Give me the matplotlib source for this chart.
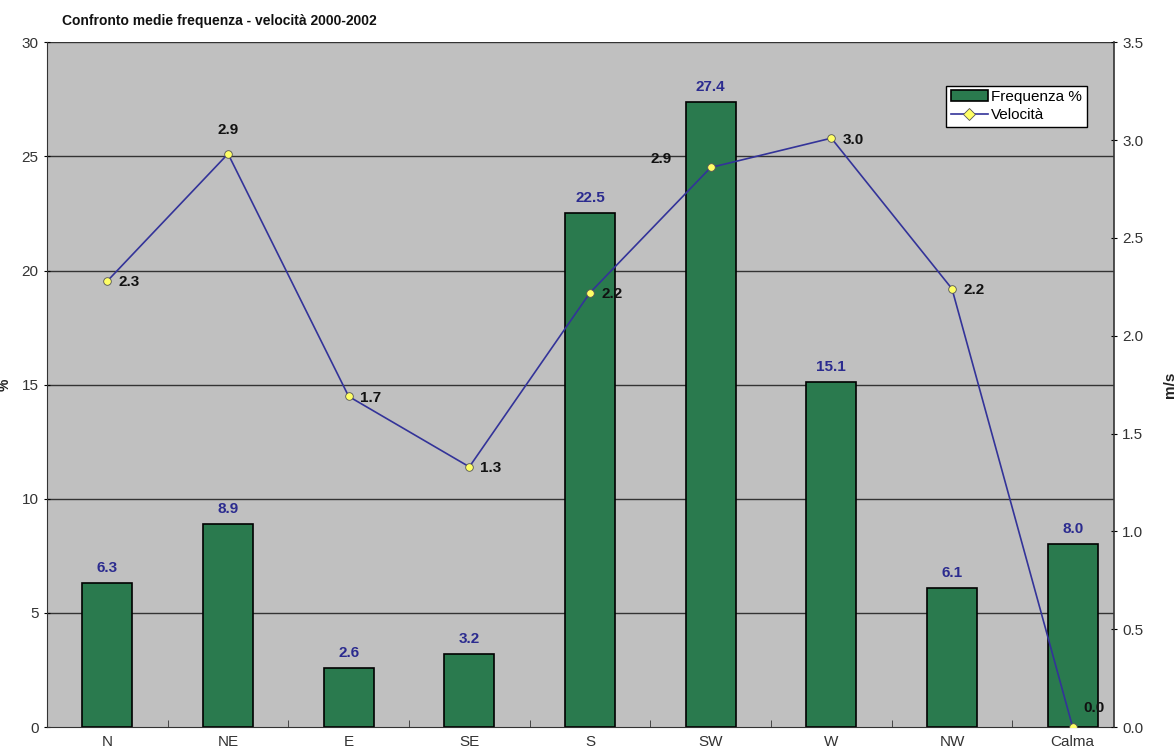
import matplotlib
matplotlib.use("Agg")
import matplotlib.pyplot as plt
from matplotlib.lines import Line2D
from matplotlib.patches import Patch
import numpy as np

plt.rcParams['font.family'] = ['Liberation Sans', 'DejaVu Sans']

categories = ["N", "NE", "E", "SE", "S", "SW", "W", "NW", "Calma"]
frequenza = [6.3, 8.9, 2.6, 3.2, 22.5, 27.4, 15.1, 6.1, 8.0]
velocita = [2.28, 2.93, 1.69, 1.33, 2.22, 2.86, 3.01, 2.24, 0.0]
vel_labels = ["2.3", "2.9", "1.7", "1.3", "2.2", "2.9", "3.0", "2.2", "0.0"]
left_ticks = [0, 5, 10, 15, 20, 25, 30]
right_ticks = [0.0, 0.5, 1.0, 1.5, 2.0, 2.5, 3.0, 3.5]

fig = plt.figure(figsize=(11.76, 7.55), dpi=100)
ax = fig.add_axes([0.040, 0.037, 0.907, 0.907])
ax.set_facecolor('#C0C0C0')
x = np.arange(len(categories))

ax.set_ylim(0, 30)
ax.set_xlim(-0.5, len(categories) - 0.66)
ax.set_yticks(left_ticks)
for t in left_ticks[1:]:
    ax.axhline(t, color='#333333', lw=1.0, zorder=1)

ax.bar(x, frequenza, width=0.415, color='#2A7A4E', edgecolor='black', lw=1.2, zorder=2)
for xi, v in zip(x, frequenza):
    ax.text(xi, v + 0.35, f"{v:.1f}", ha='center', va='bottom', color='#2B2B8F',
            fontsize=11, fontweight='bold', zorder=5)

ax.set_xticks(x)
ax.set_xticklabels(categories, fontsize=11, color='#333333')
ax.set_xticks(np.arange(0.5, len(categories) - 1, 1.0), minor=True)
ax.tick_params(axis='x', which='major', length=0, pad=6)
ax.tick_params(axis='x', which='minor', length=5, direction='in', color='#333333')
ax.tick_params(axis='y', labelsize=11, labelcolor='#333333', length=5, direction='inout')
ax.spines['top'].set_visible(False)
ax.spines['left'].set_color('#333333')
ax.spines['bottom'].set_color('#333333')
ax.spines['right'].set_visible(False)

ax2 = ax.twinx()
ax2.set_ylim(0, 3.5)
ax2.set_yticks(right_ticks)
ax2.set_yticklabels([f"{t:.1f}" for t in right_ticks])
ax2.tick_params(axis='y', labelsize=11, labelcolor='#333333', length=5, direction='inout')
for s in ['top', 'left', 'bottom']:
    ax2.spines[s].set_visible(False)
ax2.spines['right'].set_color('#333333')
ax2.spines['right'].set_linewidth(1.2)
ax2.plot(x, velocita, color='#333399', lw=1.2, marker='o', markersize=5.5,
         markerfacecolor='#FFFF66', markeredgecolor='#555555', markeredgewidth=0.6,
         zorder=4)

offsets = {1: (0, 12, 'center', 'bottom'), 5: (-28, 6, 'right', 'center')}
for i, (xi, v, lab) in enumerate(zip(x, velocita, vel_labels)):
    dx, dy, ha, va = offsets.get(i, (8, -1, 'left', 'center'))
    if i == 8:
        dx, dy = 8, 14
    ax2.annotate(lab, (xi, v), xytext=(dx, dy), textcoords='offset points',
                 ha=ha, va=va, fontsize=11, fontweight='bold', color='#111111', zorder=6)

ax2.set_ylabel('m/s', fontsize=11, fontweight='bold', color='#222222', labelpad=14)

handles = [Patch(facecolor='#2A7A4E', edgecolor='black', lw=1.2),
           Line2D([], [], color='#333399', lw=1.2, marker='D', markersize=6,
                  markerfacecolor='#FFFF66', markeredgecolor='#555555', markeredgewidth=0.6)]
leg = ax2.legend(handles, ['Frequenza %', 'Velocità'], loc='upper right',
                 bbox_to_anchor=(0.982, 0.948),
                 fontsize=11, frameon=True, fancybox=False, edgecolor='black',
                 framealpha=1.0, handlelength=2.4, borderpad=0.3, labelspacing=0.25,
                 handletextpad=0.25)
leg.get_frame().set_linewidth(1.0)

fig.text(0.053, 0.972, "Confronto medie frequenza - velocità 2000-2002", fontsize=10,
         fontweight='bold', color='#111111', ha='left', va='center')
fig.text(0.004, 0.49, "%", fontsize=10, fontweight='bold', rotation=90, ha='center',
         va='center', color='#222222')

fig.savefig("out.png", dpi=100)
